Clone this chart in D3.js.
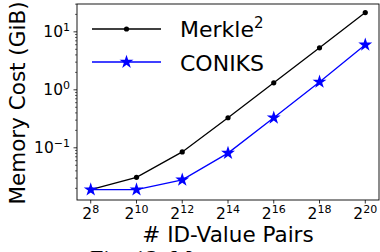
<!DOCTYPE html>
<html>
<head>
<meta charset="utf-8">
<script src="https://cdn.jsdelivr.net/npm/d3@7"></script>
<style>
  html, body { margin: 0; padding: 0; background: #fff; overflow: hidden; }
  svg { display: block; font-family: "DejaVu Sans", sans-serif; }
</style>
</head>
<body>
<svg id="chart" width="380" height="252"></svg>
<script>
// data
const exponents = [8, 10, 12, 14, 16, 18, 20];          // x = 2^k ID-value pairs
const merkleCost = [0.019, 0.031, 0.085, 0.33, 1.32, 5.3, 21.5];   // GiB
const coniksCost = [0.019, 0.019, 0.028, 0.081, 0.33, 1.37, 5.97]; // GiB
const yDecades = [-1, 0, 1];
const seriesNames = ["Merkle", "CONIKS"];

const W = 380, H = 252;
const plot = { left: 77, right: 379, top: 4, bottom: 200 };

const svg = d3.select("#chart");

const x = d3.scaleLog().base(2)
  .domain([Math.pow(2, 7.4), Math.pow(2, 20.6)])
  .range([plot.left, plot.right]);
const y = d3.scaleLog()
  .domain([Math.pow(10, -1.9), Math.pow(10, 1.48)])
  .range([plot.bottom, plot.top]);

// ticks on the y axis (major + minor)
const yAxis = svg.append("g");
const minor = [];
for (let d = -2; d <= 1; d++) {
  for (let m = 2; m <= 9; m++) {
    const v = m * Math.pow(10, d);
    if (v > y.domain()[0] && v < y.domain()[1]) minor.push(v);
  }
}
yAxis.selectAll(".minor").data(minor).enter().append("line")
  .attr("x1", plot.left - 2).attr("x2", plot.left)
  .attr("y1", d => y(d)).attr("y2", d => y(d))
  .attr("stroke", "#000").attr("stroke-width", 0.6);
yAxis.selectAll(".major").data(yDecades).enter().append("line")
  .attr("x1", plot.left - 3.5).attr("x2", plot.left)
  .attr("y1", d => y(Math.pow(10, d))).attr("y2", d => y(Math.pow(10, d)))
  .attr("stroke", "#000").attr("stroke-width", 0.8);
const yLab = yAxis.selectAll(".lab").data(yDecades).enter().append("text")
  .attr("x", 70).attr("y", d => y(Math.pow(10, d)) + 5.5)
  .attr("text-anchor", "end").attr("font-size", 15.5);
yLab.append("tspan").text("10");
yLab.append("tspan").attr("dy", -6).attr("font-size", 11)
  .text(d => d < 0 ? "\u2212" + Math.abs(d) : d);

// ticks on the x axis
const xAxis = svg.append("g");
xAxis.selectAll("line").data(exponents).enter().append("line")
  .attr("x1", d => x(Math.pow(2, d))).attr("x2", d => x(Math.pow(2, d)))
  .attr("y1", plot.bottom).attr("y2", plot.bottom + 3.5)
  .attr("stroke", "#000").attr("stroke-width", 0.8);
const xLab = xAxis.selectAll("text").data(exponents).enter().append("text")
  .attr("x", d => x(Math.pow(2, d)))
  .attr("y", 219).attr("text-anchor", "middle").attr("font-size", 15.5);
xLab.append("tspan").text("2");
xLab.append("tspan").attr("dy", -6).attr("font-size", 11).text(d => d);

// lines
const line = d3.line()
  .x((d, i) => x(Math.pow(2, exponents[i])))
  .y(d => y(d));

svg.append("path").datum(merkleCost)
  .attr("d", line).attr("fill", "none")
  .attr("stroke", "#000").attr("stroke-width", 1.3);
svg.selectAll(".dot").data(merkleCost).enter().append("circle")
  .attr("cx", (d, i) => x(Math.pow(2, exponents[i])))
  .attr("cy", d => y(d)).attr("r", 2.6).attr("fill", "#000");

const star = d3.symbol().type(d3.symbolStar).size(60);
svg.append("path").datum(coniksCost)
  .attr("d", line).attr("fill", "none")
  .attr("stroke", "#0000ff").attr("stroke-width", 1.3);
svg.selectAll(".star").data(coniksCost).enter().append("path")
  .attr("d", star)
  .attr("transform", (d, i) => `translate(${x(Math.pow(2, exponents[i]))},${y(d)})`)
  .attr("fill", "#0000ff");

// frame
svg.append("rect")
  .attr("x", plot.left).attr("y", plot.top)
  .attr("width", plot.right - plot.left).attr("height", plot.bottom - plot.top)
  .attr("fill", "none").attr("stroke", "#000").attr("stroke-width", 0.9);

// legend
const leg = svg.append("g");
leg.append("line").attr("x1", 92).attr("x2", 161).attr("y1", 29).attr("y2", 29)
  .attr("stroke", "#000").attr("stroke-width", 1.3);
leg.append("circle").attr("cx", 126.5).attr("cy", 29).attr("r", 2.6).attr("fill", "#000");
leg.append("line").attr("x1", 92).attr("x2", 161).attr("y1", 62).attr("y2", 62)
  .attr("stroke", "#0000ff").attr("stroke-width", 1.3);
leg.append("path").attr("d", star).attr("transform", "translate(126.5,62)").attr("fill", "#0000ff");
const t1 = leg.append("text").attr("x", 180).attr("y", 37).attr("font-size", 22);
t1.append("tspan").text(seriesNames[0]);
t1.append("tspan").attr("dy", -9).attr("font-size", 15).text("2");
leg.append("text").attr("x", 180).attr("y", 70.5).attr("font-size", 22).text(seriesNames[1]);

// axis titles
svg.append("text").attr("x", 228).attr("y", 242)
  .attr("text-anchor", "middle").attr("font-size", 21.5)
  .text("# ID-Value Pairs");
svg.append("text")
  .attr("transform", "translate(25,103) rotate(-90)")
  .attr("text-anchor", "middle").attr("font-size", 21.5)
  .text("Memory Cost (GiB)");

// caption peeking in at the bottom
svg.append("text").attr("x", 90).attr("y", 265.5)
  .attr("font-family", "'Liberation Serif', serif").attr("font-size", 24)
  .text("Fig. 12: Memory cost");
</script>
</body>
</html>
